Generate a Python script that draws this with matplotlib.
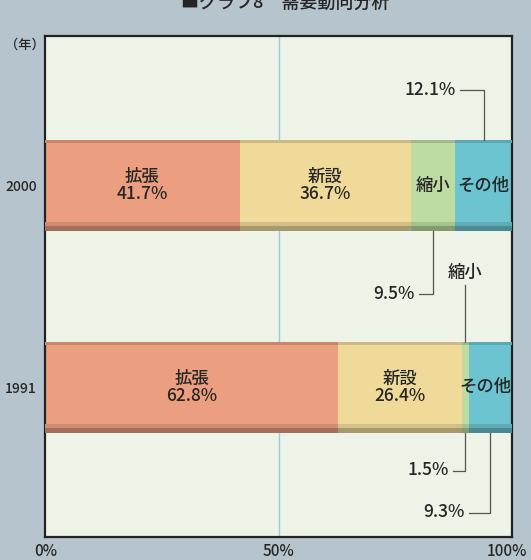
import matplotlib.pyplot as plt
from matplotlib.colors import to_rgb
from matplotlib.transforms import ScaledTranslation

plt.rcParams['font.family'] = ['Noto Sans CJK JP', 'DejaVu Sans']
plt.rcParams['font.weight'] = 'medium'

years = ["2000", "1991"]
categories = ["拡張", "新設", "縮小", "その他"]
share_2000 = [41.7, 36.7, 9.5, 12.1]
share_1991 = [62.8, 26.4, 1.5, 9.3]
series = [share_2000, share_1991]
x_ticks = [0, 50, 100]
x_tick_labels = ["0%", "50%", "100%"]

colors = ["#eb9f80", "#f0da9a", "#bcdca2", "#6cc4d0"]
bg = "#b5c4cd"
panel = "#eef3e7"
ink = "#262626"

fig = plt.figure(figsize=(5.31, 5.60), dpi=100, facecolor=bg)
ax = fig.add_axes([45 / 531, 23 / 560, 467 / 531, 501 / 560])
ax.set_facecolor(panel)
ax.set_xlim(0, 100)
ax.set_ylim(1, 0)

ypos = [0.299, 0.701]
height = 0.182


def darker(c, f):
    r, g, b = to_rgb(c)
    return (r * f, g * f, b * f)


ax.axvline(50, color="#9fc9dc", lw=1.0, zorder=1)

for y, vals in zip(ypos, series):
    left = 0
    for v, c in zip(vals, colors):
        ax.barh(y, v, left=left, height=height, color=c, zorder=2, lw=0)
        # shaded rims along the top and bottom of each segment
        ax.barh(y - height / 2 + 0.003, v, left=left, height=0.006,
                color=darker(c, 0.85), zorder=3, lw=0)
        ax.barh(y + height / 2 - 0.012, v, left=left, height=0.012,
                color=darker(c, 0.88), zorder=3, lw=0)
        ax.barh(y + height / 2 - 0.005, v, left=left, height=0.010,
                color=darker(c, 0.70), zorder=3, lw=0)
        left += v

fs = 12.5


def seg_center(vals, i):
    return sum(vals[:i]) + vals[i] / 2


# labels inside the bars
for y, vals in zip(ypos, series):
    for i in (0, 1):
        ax.text(seg_center(vals, i), y, f"{categories[i]}\n{vals[i]}%",
                ha="center", va="center", fontsize=fs, color=ink,
                linespacing=0.95, zorder=5)

ax.text(seg_center(share_2000, 2), ypos[0], categories[2], ha="center",
        va="center", fontsize=fs, color=ink, zorder=5)
ax.text(seg_center(share_2000, 3), ypos[0], categories[3], ha="center",
        va="center", fontsize=fs, color=ink, zorder=5)
ax.text(seg_center(share_1991, 3) - 1.0, ypos[1], categories[3], ha="center",
        va="center", fontsize=fs, color=ink, zorder=5)

line_kw = dict(color="#555555", lw=0.9, zorder=4)

# 12.1% (2000, その他) – leader from above
x = seg_center(share_2000, 3)
ax.plot([x - 5.0, x, x], [0.108, 0.108, ypos[0] - height / 2], **line_kw)
ax.text(x - 6.0, 0.108, f"{share_2000[3]}%", ha="right", va="center",
        fontsize=fs, color=ink)

# 9.5% (2000, 縮小) – leader from below
x = seg_center(share_2000, 2)
ax.plot([x - 3.0, x, x], [0.515, 0.515, ypos[0] + height / 2], **line_kw)
ax.text(x - 4.0, 0.515, f"{share_2000[2]}%", ha="right", va="center",
        fontsize=fs, color=ink)

# 縮小 (1991) – label above the bar
x = seg_center(share_1991, 2)
ax.plot([x, x], [0.497, ypos[1] - height / 2], **line_kw)
ax.text(x, 0.472, categories[2], ha="center", va="center", fontsize=fs,
        color=ink)

# 1.5% (1991, 縮小) – leader from below
ax.plot([x - 2.5, x, x], [0.868, 0.868, ypos[1] + height / 2], **line_kw)
ax.text(x - 3.5, 0.866, f"{share_1991[2]}%", ha="right", va="center",
        fontsize=fs, color=ink)

# 9.3% (1991, その他) – leader from below
x = seg_center(share_1991, 3)
ax.plot([x - 4.5, x, x], [0.952, 0.952, ypos[1] + height / 2], **line_kw)
ax.text(x - 5.5, 0.950, f"{share_1991[3]}%", ha="right", va="center",
        fontsize=fs, color=ink)

ax.set_yticks(ypos)
ax.set_yticklabels(years, fontsize=10, color=ink)
ax.set_xticks(x_ticks)
ax.set_xticklabels(x_tick_labels, fontsize=11, color=ink)
ax.tick_params(length=0, pad=4)
ax.tick_params(axis="y", pad=6)
# keep the end labels inside the figure
xlabels = ax.get_xticklabels()
xlabels[0].set_transform(xlabels[0].get_transform()
                         + ScaledTranslation(0.01, 0, fig.dpi_scale_trans))
xlabels[-1].set_transform(xlabels[-1].get_transform()
                          + ScaledTranslation(-0.05, 0, fig.dpi_scale_trans))
for s in ax.spines.values():
    s.set_color("#222222")
    s.set_linewidth(1.6)

fig.text(25 / 531, 1 - 45 / 560, "（年）", ha="center", va="center",
         fontsize=9.5, color=ink)
fig.text(285 / 531, 1 - 3 / 560, "■グラフ8　需要動向分析", ha="center",
         va="center", fontsize=13, color=ink)

fig.savefig("out.png", dpi=100, facecolor=bg)
